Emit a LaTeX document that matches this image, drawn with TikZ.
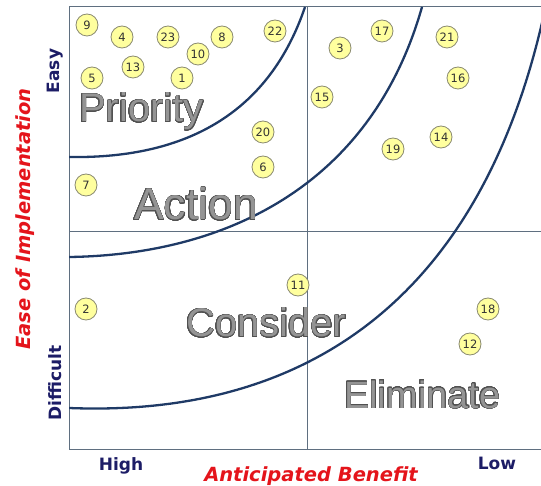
\documentclass[tikz,border=0pt]{standalone}
\usepackage{fontspec}
\setmainfont{Liberation Sans}
\newfontfamily\dejavu{DejaVu Sans}
\usepackage{contour}
\contourlength{0.5pt}
\contournumber{32}

\definecolor{gridline}{HTML}{5F6F80}
\definecolor{curveblue}{HTML}{1F3A66}
\definecolor{bubblefill}{HTML}{FFFF9E}
\definecolor{bubbleedge}{HTML}{8A8A70}
\definecolor{numtext}{HTML}{333333}
\definecolor{axisnavy}{HTML}{1C1C66}
\definecolor{axisred}{HTML}{E4141B}
\definecolor{zonefill}{HTML}{949494}
\definecolor{zoneedge}{HTML}{505050}

\tikzset{
  bubble/.style={circle, draw=bubbleedge, line width=0.8pt, fill=bubblefill,
    minimum size=22pt, inner sep=0pt, text=numtext,
    font=\dejavu\fontsize{11.5}{11.5}\selectfont},
  zone/.style={anchor=base west, inner sep=0pt,
    font=\fontsize{40}{40}\selectfont},
  axislabel/.style={text=axisnavy, inner sep=0pt,
    font=\dejavu\bfseries\fontsize{17}{17}\selectfont},
  axistitle/.style={text=axisred, inner sep=0pt,
    font=\dejavu\bfseries\itshape\fontsize{19.5}{19.5}\selectfont},
  gridrule/.style={draw=gridline, line width=1pt},
  boundary/.style={draw=curveblue, line width=2.3pt}
}
\newcommand{\zonetext}[1]{\contour{zoneedge}{\textcolor{zonefill}{#1}}}

\begin{document}
\begin{tikzpicture}[x=1pt, y=-1pt]
\useasboundingbox (0,0) rectangle (541,486);

% frame and quadrant rules
\draw[gridrule] (541,7) -- (69,7) -- (69,449) -- (541,449);
\draw[gridrule] (307,7) -- (307,449);
\draw[gridrule] (69,232) -- (541,232);

% zone boundaries
\begin{scope}
  \clip (69,7) rectangle (541,449);
  \draw[boundary] (69,157) .. controls (190,159) and (270,110) .. (305,7);
  \draw[boundary] (69,257) .. controls (220,255) and (370,190) .. (422,7);
  \draw[boundary] (69,408) .. controls (320,418) and (490,285) .. (548,-5);
\end{scope}

% zone names
\node[zone] (priority) at (79,122) {\zonetext{Priority}};
\node[zone, font=\fontsize{44.5}{44.5}\selectfont] (action) at (134,220) {\zonetext{Action}};
\node[zone] (consider) at (186,337) {\zonetext{Consider}};
\node[zone, font=\fontsize{38}{38}\selectfont] (eliminate) at (344,408) {\zonetext{Eliminate}};

% numbered items
\node[bubble] (b9)  at (87,25)   {9};
\node[bubble] (b4)  at (122,37)  {4};
\node[bubble] (b23) at (168,37)  {23};
\node[bubble] (b8)  at (222,37)  {8};
\node[bubble] (b22) at (275,31)  {22};
\node[bubble] (b10) at (198,54)  {10};
\node[bubble] (b13) at (133,67)  {13};
\node[bubble] (b5)  at (92,78)   {5};
\node[bubble] (b1)  at (182,78)  {1};
\node[bubble] (b20) at (263,132) {20};
\node[bubble] (b6)  at (263,167) {6};
\node[bubble] (b17) at (382,31)  {17};
\node[bubble] (b3)  at (340,48)  {3};
\node[bubble] (b21) at (447,37)  {21};
\node[bubble] (b16) at (458,78)  {16};
\node[bubble] (b15) at (322,97)  {15};
\node[bubble] (b14) at (441,137) {14};
\node[bubble] (b19) at (393,149) {19};
\node[bubble] (b7)  at (86,185)  {7};
\node[bubble] (b2)  at (86,309)  {2};
\node[bubble] (b11) at (298,285) {11};
\node[bubble] (b18) at (488,309) {18};
\node[bubble] (b12) at (470,344) {12};

% axes
\node[axislabel, rotate=90] (easy) at (55,71) {Easy};
\node[axislabel, rotate=90] (difficult) at (55,383) {Difficult};
\node[axislabel] (high) at (121,466) {High};
\node[axislabel] (low) at (497,463) {Low};
\node[axistitle, rotate=90] (ease) at (25,219) {Ease of Implementation};
\node[axistitle] (benefit) at (311,476) {Anticipated Benefit};
\end{tikzpicture}
\end{document}
